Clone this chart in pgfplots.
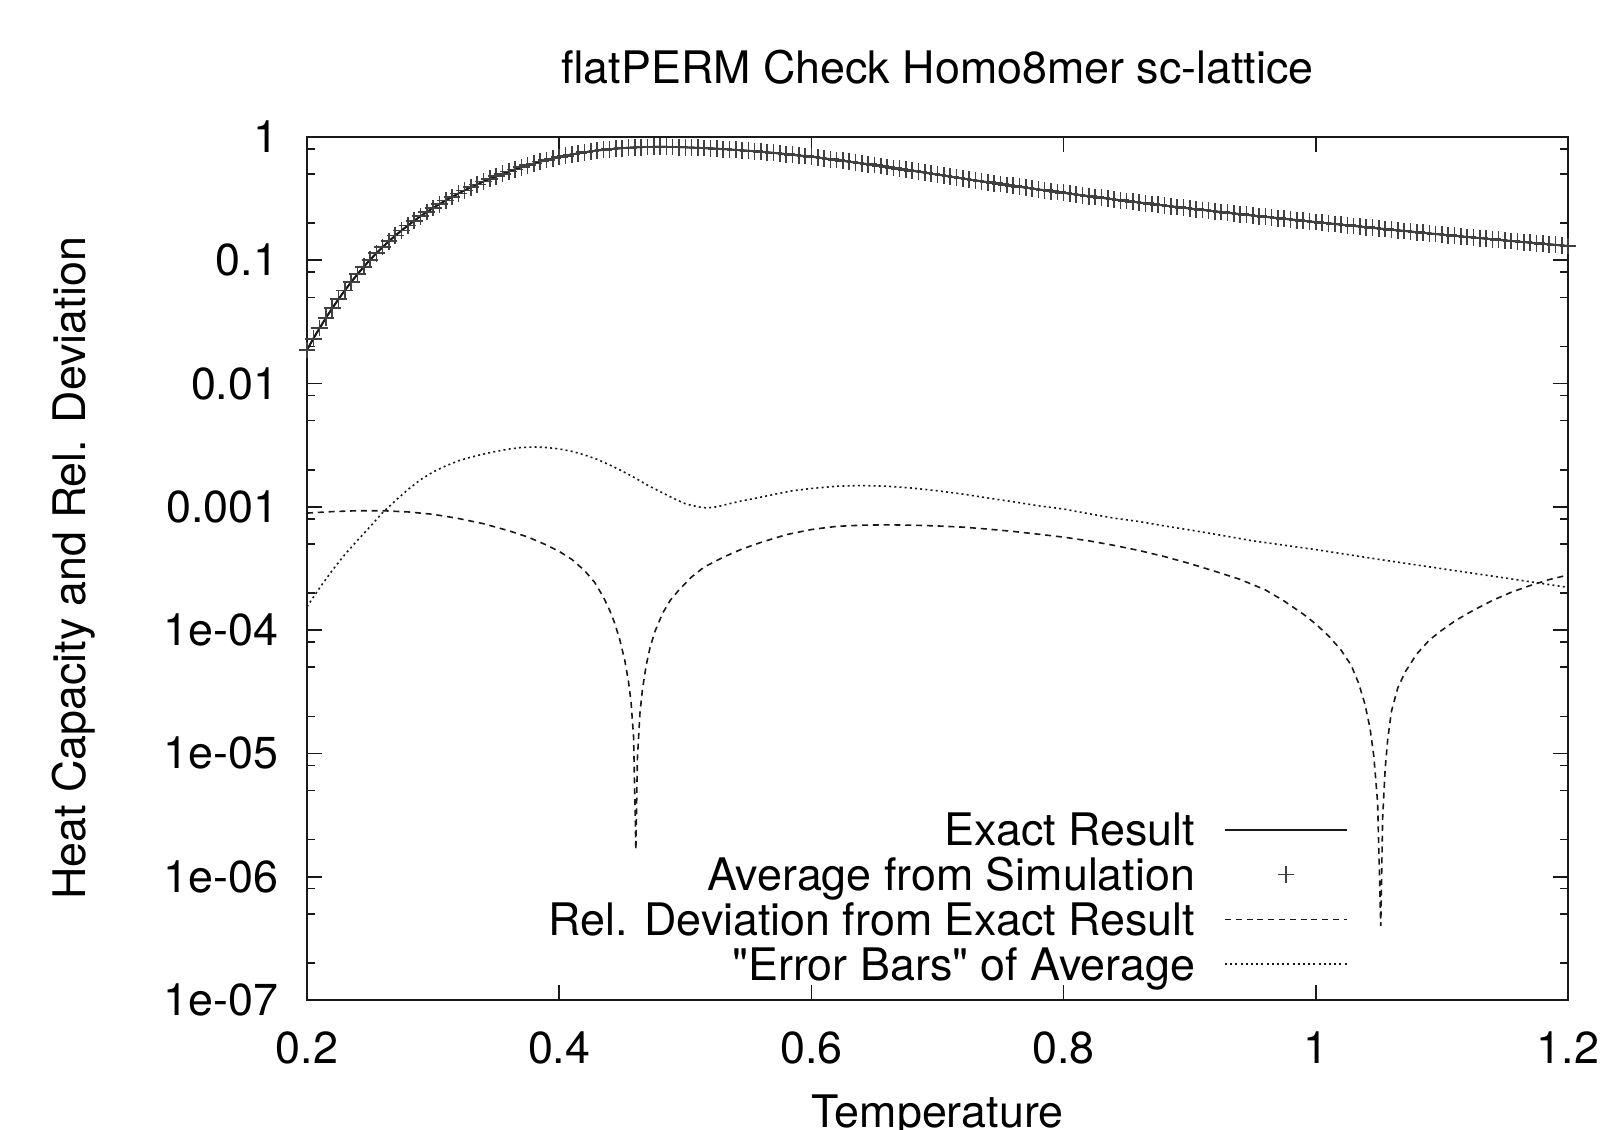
\documentclass[border=0pt]{standalone}
\usepackage{fontspec}
\setmainfont{TeX Gyre Heros}
\usepackage{pgfplots}
\usepackage{pgfplotstable}
\pgfplotsset{compat=1.18}

\pgfplotstableread{
T C
0.200 0.01875
0.205 0.0231
0.210 0.0282
0.215 0.0341
0.220 0.0408
0.225 0.0484
0.230 0.0570
0.235 0.0665
0.240 0.0770
0.245 0.0884
0.250 0.1008
0.255 0.1141
0.260 0.1282
0.265 0.1430
0.270 0.1584
0.275 0.1747
0.280 0.1916
0.285 0.2092
0.290 0.2275
0.295 0.2462
0.300 0.2656
0.305 0.2854
0.310 0.3057
0.315 0.3265
0.320 0.3477
0.325 0.3688
0.330 0.3911
0.335 0.4133
0.340 0.4355
0.345 0.4578
0.350 0.4802
0.355 0.5024
0.360 0.5247
0.365 0.5467
0.370 0.5685
0.375 0.5897
0.380 0.6105
0.385 0.6309
0.390 0.6504
0.395 0.6694
0.400 0.6875
0.405 0.7048
0.410 0.7214
0.415 0.7357
0.420 0.7515
0.425 0.7646
0.430 0.7762
0.435 0.7867
0.440 0.7962
0.445 0.8046
0.450 0.8121
0.455 0.8183
0.460 0.8234
0.465 0.8272
0.470 0.8298
0.475 0.8313
0.480 0.8319
0.485 0.8313
0.490 0.8298
0.495 0.8275
0.500 0.8246
0.505 0.8212
0.510 0.8173
0.515 0.8128
0.520 0.8080
0.525 0.8030
0.530 0.7976
0.535 0.7919
0.540 0.7860
0.545 0.7797
0.550 0.7730
0.555 0.7662
0.560 0.7589
0.565 0.7513
0.570 0.7433
0.575 0.7350
0.580 0.7261
0.585 0.7169
0.590 0.7084
0.595 0.7001
0.600 0.6918
0.605 0.6815
0.610 0.6713
0.615 0.6610
0.620 0.6507
0.625 0.6406
0.630 0.6305
0.635 0.6206
0.640 0.6106
0.645 0.6011
0.650 0.5916
0.655 0.5814
0.660 0.5713
0.665 0.5614
0.670 0.5517
0.675 0.5420
0.680 0.5325
0.685 0.5231
0.690 0.5138
0.695 0.5047
0.700 0.4955
0.705 0.4864
0.710 0.4778
0.715 0.4692
0.720 0.4609
0.725 0.4527
0.730 0.4447
0.735 0.4370
0.740 0.4294
0.745 0.4221
0.750 0.4150
0.755 0.4080
0.760 0.4013
0.765 0.3947
0.770 0.3882
0.775 0.3819
0.780 0.3757
0.785 0.3697
0.790 0.3638
0.795 0.3580
0.800 0.3524
0.805 0.3469
0.810 0.3416
0.815 0.3364
0.820 0.3312
0.825 0.3262
0.830 0.3213
0.835 0.3165
0.840 0.3118
0.845 0.3072
0.850 0.3027
0.855 0.2983
0.860 0.2941
0.865 0.2899
0.870 0.2858
0.875 0.2818
0.880 0.2779
0.885 0.2740
0.890 0.2703
0.895 0.2666
0.900 0.2630
0.905 0.2595
0.910 0.2561
0.915 0.2527
0.920 0.2494
0.925 0.2462
0.930 0.2429
0.935 0.2398
0.940 0.2367
0.945 0.2337
0.950 0.2307
0.955 0.2278
0.960 0.2250
0.965 0.2223
0.970 0.2196
0.975 0.2169
0.980 0.2143
0.985 0.2117
0.990 0.2091
0.995 0.2066
1.000 0.2042
1.005 0.2017
1.010 0.1993
1.015 0.1970
1.020 0.1946
1.025 0.1923
1.030 0.1900
1.035 0.1878
1.040 0.1855
1.045 0.1833
1.050 0.1811
1.055 0.1791
1.060 0.1770
1.065 0.1750
1.070 0.1730
1.075 0.1710
1.080 0.1690
1.085 0.1671
1.090 0.1652
1.095 0.1633
1.100 0.1614
1.105 0.1597
1.110 0.1580
1.115 0.1563
1.120 0.1546
1.125 0.1529
1.130 0.1513
1.135 0.1497
1.140 0.1480
1.145 0.1464
1.150 0.1449
1.155 0.1434
1.160 0.1419
1.165 0.1404
1.170 0.1390
1.175 0.1376
1.180 0.1362
1.185 0.1347
1.190 0.1334
1.195 0.1320
1.200 0.1306
}\heatcap

\pgfplotstableread{
T D
0.200 8.9e-4
0.220 9.15e-4
0.240 9.3e-4
0.260 9.3e-4
0.280 9.1e-4
0.300 8.7e-4
0.320 8.05e-4
0.340 7.3e-4
0.360 6.4e-4
0.375 5.7e-4
0.390 4.9e-4
0.400 4.35e-4
0.410 3.75e-4
0.420 3.05e-4
0.428 2.45e-4
0.435 1.86e-4
0.440 1.45e-4
0.444 1.14e-4
0.448 8.4e-5
0.452 5.7e-5
0.455 3.8e-5
0.457 2.6e-5
0.459 1.35e-5
0.4608 1.65e-6
0.462 9e-6
0.464 2.1e-5
0.466 3.3e-5
0.469 5.2e-5
0.472 7.2e-5
0.476 9.8e-5
0.482 1.37e-4
0.488 1.74e-4
0.495 2.12e-4
0.505 2.7e-4
0.515 3.25e-4
0.530 3.9e-4
0.545 4.55e-4
0.560 5.15e-4
0.580 5.95e-4
0.600 6.55e-4
0.620 6.95e-4
0.640 7.1e-4
0.660 7.15e-4
0.680 7.1e-4
0.700 7.0e-4
0.720 6.85e-4
0.740 6.6e-4
0.760 6.32e-4
0.780 6.0e-4
0.800 5.68e-4
0.820 5.3e-4
0.840 4.87e-4
0.860 4.42e-4
0.880 3.95e-4
0.900 3.47e-4
0.920 3.0e-4
0.940 2.58e-4
0.960 2.12e-4
0.975 1.72e-4
0.990 1.35e-4
1.000 1.12e-4
1.010 9.0e-5
1.020 6.9e-5
1.028 5.2e-5
1.034 3.7e-5
1.039 2.5e-5
1.043 1.6e-5
1.046 9.5e-6
1.049 4e-6
1.0515 4e-7
1.053 3e-6
1.055 7.5e-6
1.057 1.3e-5
1.060 2.2e-5
1.065 3.4e-5
1.071 4.6e-5
1.080 6.4e-5
1.090 8.3e-5
1.100 1.0e-4
1.111 1.2e-4
1.125 1.45e-4
1.140 1.74e-4
1.155 2.03e-4
1.170 2.3e-4
1.185 2.57e-4
1.200 2.8e-4
}\reldev

\pgfplotstableread{
T E
0.200 1.55e-4
0.210 2.2e-4
0.220 3.05e-4
0.230 4.1e-4
0.240 5.35e-4
0.250 6.9e-4
0.260 9.0e-4
0.270 1.12e-3
0.280 1.38e-3
0.290 1.66e-3
0.300 1.92e-3
0.310 2.15e-3
0.320 2.36e-3
0.330 2.53e-3
0.340 2.68e-3
0.350 2.82e-3
0.360 2.94e-3
0.370 3.03e-3
0.380 3.06e-3
0.390 3.03e-3
0.400 2.95e-3
0.410 2.82e-3
0.420 2.64e-3
0.430 2.43e-3
0.440 2.19e-3
0.450 1.95e-3
0.460 1.72e-3
0.470 1.5e-3
0.480 1.33e-3
0.490 1.18e-3
0.500 1.06e-3
0.510 1.0e-3
0.517 9.8e-4
0.525 1.0e-3
0.535 1.06e-3
0.545 1.12e-3
0.555 1.17e-3
0.570 1.26e-3
0.585 1.35e-3
0.600 1.41e-3
0.620 1.47e-3
0.640 1.49e-3
0.660 1.47e-3
0.680 1.42e-3
0.700 1.35e-3
0.720 1.27e-3
0.740 1.18e-3
0.760 1.1e-3
0.780 1.02e-3
0.800 9.6e-4
0.820 8.8e-4
0.840 8.1e-4
0.860 7.6e-4
0.880 7.0e-4
0.900 6.5e-4
0.920 6.0e-4
0.950 5.3e-4
1.000 4.5e-4
1.050 3.75e-4
1.100 3.15e-4
1.150 2.65e-4
1.200 2.22e-4
}\errbars

\begin{document}
\begin{tikzpicture}[font=\fontsize{11.2pt}{13.4pt}\selectfont]
\begin{axis}[
  at={(0pt,0pt)}, anchor=south west,
  scale only axis, width=315.25pt, height=215.75pt,
  xmin=0.2, xmax=1.2, ymin=1e-7, ymax=1, ymode=log,
  xtick={0.2,0.4,0.6,0.8,1.0,1.2},
  xticklabels={0.2,0.4,0.6,0.8,1,1.2},
  ytick={1e-7,1e-6,1e-5,1e-4,1e-3,1e-2,1e-1,1},
  yticklabels={1e-07,1e-06,1e-05,1e-04,0.001,0.01,0.1,1},
  minor ytick={2e-7,5e-7,8e-7,2e-6,5e-6,8e-6,2e-5,5e-5,8e-5,2e-4,5e-4,8e-4,2e-3,5e-3,8e-3,2e-2,5e-2,8e-2,0.2,0.5,0.8},
  minor xtick={},
  tick align=inside, xtick pos=both, ytick pos=both,
  major tick length=3.75pt, minor tick length=1.9pt,
  every tick/.style={black!90, line width=0.4pt},
  axis line style={black!90, line width=0.45pt},
  xticklabel style={inner sep=0pt, yshift=-7.75pt},
  yticklabel style={inner sep=0pt, xshift=-7pt},
  title={flatPERM Check Homo8mer sc-lattice},
  title style={at={(axis description cs:0.5,1)}, anchor=base, yshift=7.25pt},
  xlabel={Temperature},
  xlabel style={at={(axis description cs:0.5,0)}, anchor=base, yshift=-31.75pt},
  ylabel={Heat Capacity and Rel. Deviation},
  ylabel style={at={(axis description cs:-0.176,0.5)}, anchor=base},
  legend cell align=right, legend plot pos=right,
  legend style={draw=none, fill=none, at={(0.8255,0.2155)}, anchor=north east,
    inner sep=0pt, outer sep=0pt, row sep=3.3pt, column sep=7.25pt,
    nodes={inner sep=0pt, text height=7.9pt, text depth=0pt}},
  legend image code/.code={\draw[mark repeat=2,mark phase=2,#1] plot coordinates {(0pt,0pt) (15.25pt,0pt) (30.5pt,0pt)};},
]
\addplot[black!90, line width=0.45pt, forget plot] table[x=T,y=C]{\heatcap};
\addlegendimage{black!90, line width=0.45pt}
\addlegendentry{Exact Result}
\addplot[only marks, mark=+, mark size=2.1pt, mark options={black!75, line width=0.4pt}] table[x=T,y=C]{\heatcap};
\addlegendentry{Average from Simulation}
\addplot[black!90, line width=0.4pt, dash pattern=on 1.5pt off 1.2pt] table[x=T,y=D]{\reldev};
\addlegendentry{Rel. Deviation from Exact Result}
\addplot[black!90, line width=0.4pt, dash pattern=on 0.5pt off 0.8pt] table[x=T,y=E]{\errbars};
\addlegendentry{\textquotedbl Error Bars\textquotedbl\ of Average}
\addplot[black!90, line width=0.45pt, forget plot] table[x=T,y=C]{\heatcap};
\end{axis}
\pgfresetboundingbox
\useasboundingbox (-76.75pt,-32.5pt) rectangle (326.25pt,250pt);
\end{tikzpicture}
\end{document}
